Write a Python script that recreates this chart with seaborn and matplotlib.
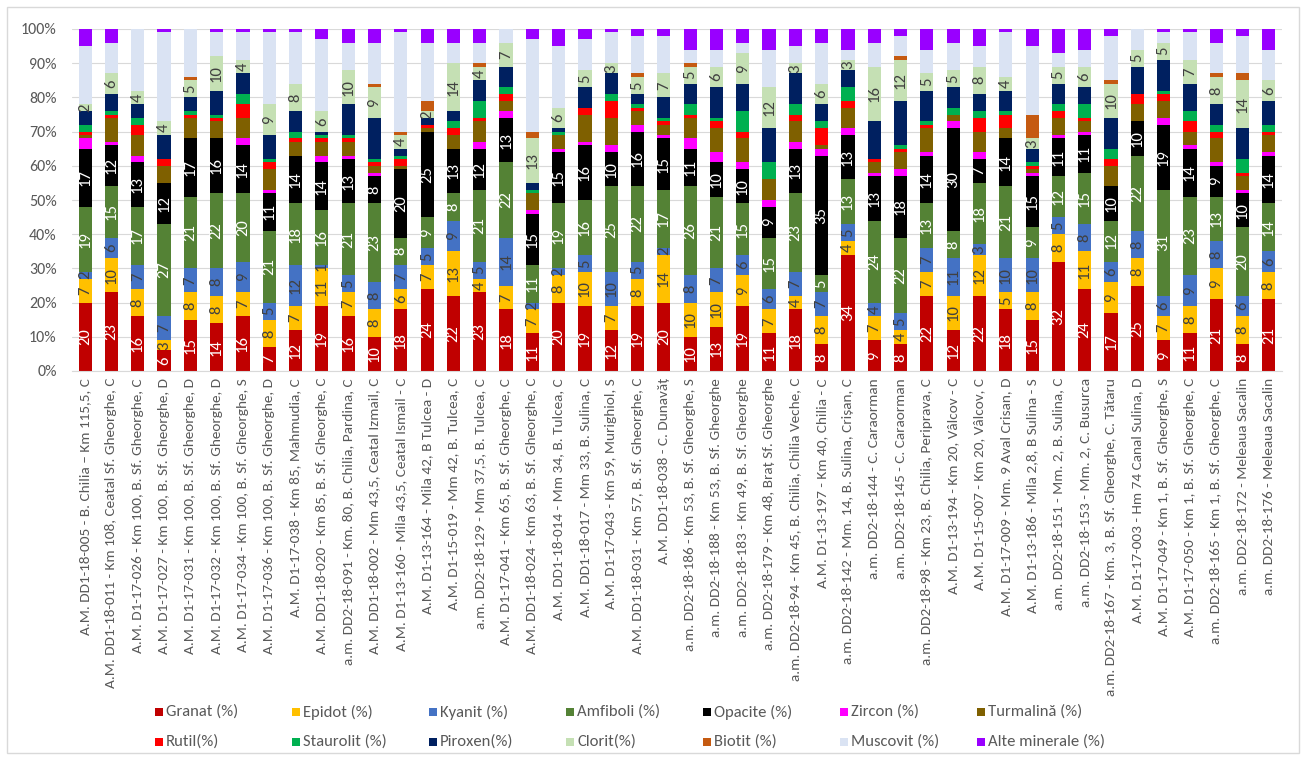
import numpy as np
import pandas as pd
import matplotlib
matplotlib.use("Agg")
import matplotlib.pyplot as plt
from matplotlib import font_manager
from matplotlib.patches import Rectangle
import seaborn as sns

# Sample identifiers (sampling point, river km / mile, branch, position)
samples = [
    "A.M. DD1-18-005 - B. Chilia – Km 115,5, C",
    "A.M. DD1-18-011 - Km 108, Ceatal Sf. Gheorghe, C",
    "A.M. D1-17-026 - Km 100, B. Sf. Gheorghe, C",
    "A.M. D1-17-027 - Km 100, B. Sf. Gheorghe, D",
    "A.M. D1-17-031 - Km 100, B. Sf. Gheorghe, D",
    "A.M. D1-17-032 - Km 100, B. Sf. Gheorghe, D",
    "A.M. D1-17-034 - Km 100, B. Sf. Gheorghe, S",
    "A.M. D1-17-036 - Km 100, B. Sf. Gheorghe, D",
    "A.M. D1-17-038 - Km 85, Mahmudia, C",
    "A.M. DD1-18-020 - Km 85, B. Sf. Gheorghe, C",
    "a.m. DD2-18-091 - Km. 80, B. Chilia, Pardina, C",
    "A.M. DD1-18-002 - Mm 43,5, Ceatal Izmail, C",
    "A.M. D1-13-160 - Mila 43,5, Ceatal Ismail - C",
    "A.M. D1-13-164 - Mila 42, B Tulcea - D",
    "A.M. D1-15-019 - Mm 42, B. Tulcea, C",
    "a.m. DD2-18-129 - Mm 37,5, B. Tulcea, C",
    "A.M. D1-17-041 - Km 65, B. Sf. Gheorghe, C",
    "A.M. DD1-18-024 - Km 63, B. Sf. Gheorghe, C",
    "A.M. DD1-18-014 - Mm 34, B. Tulcea, C",
    "A.M. DD1-18-017 - Mm 33, B. Sulina, C",
    "A.M. D1-17-043 - Km 59, Murighiol, S",
    "A.M. DD1-18-031 - Km 57, B. Sf. Gheorghe, C",
    "A.M. DD1-18-038 - C. Dunavăț",
    "a.m. DD2-18-186 - Km 53, B. Sf. Gheorghe, S",
    "a.m. DD2-18-188 - Km 53, B. Sf. Gheorghe",
    "a.m. DD2-18-183 - Km 49, B. Sf. Gheorghe",
    "a.m. DD2-18-179 - Km 48, Braț Sf. Gheorghe",
    "a.m. DD2-18-94 - Km 45, B. Chilia, Chilia Veche, C",
    "A.M. D1-13-197 - Km 40, Chilia - C",
    "a.m. DD2-18-142 - Mm. 14, B. Sulina, Crișan, C",
    "a.m. DD2-18-144 - C. Caraorman",
    "a.m. DD2-18-145 - C. Caraorman",
    "a.m. DD2-18-98 - Km 23, B. Chilia, Periprava, C",
    "A.M. D1-13-194 - Km 20, Vâlcov - C",
    "A.M. D1-15-007 - Km 20, Vâlcov, C",
    "A.M. D1-17-009 - Mm. 9 Aval Crisan, D",
    "A.M. D1-13-186 - Mila 2,8, B Sulina - S",
    "a.m. DD2-18-151 - Mm. 2, B. Sulina, C",
    "a.m. DD2-18-153 - Mm. 2, C. Busurca",
    "a.m. DD2-18-167 - Km. 3, B. Sf. Gheorghe, C. Tătaru",
    "A.M. D1-17-003 - Hm 74 Canal Sulina, D",
    "A.M. D1-17-049 - Km 1, B. Sf. Gheorghe, S",
    "A.M. D1-17-050 - Km 1, B. Sf. Gheorghe, C",
    "a.m. DD2-18-165 - Km 1, B. Sf. Gheorghe, C",
    "a.m. DD2-18-172 - Meleaua Sacalin",
    "a.m. DD2-18-176 - Meleaua Sacalin",
]

# Heavy-mineral composition per sample (%)
granat = [20, 23, 16, 6, 15, 14, 16, 7, 12, 19, 16, 10, 18, 24, 22, 23, 18, 11, 20, 19, 12, 19, 20,
          10, 13, 19, 11, 18, 8, 34, 9, 8, 22, 12, 22, 18, 15, 32, 24, 17, 25, 9, 11, 21, 8, 21]
epidot = [7, 10, 8, 3, 8, 8, 7, 8, 7, 11, 7, 8, 6, 7, 13, 4, 7, 7, 8, 10, 7, 8, 14,
          10, 10, 9, 7, 4, 8, 4, 7, 4, 7, 10, 12, 5, 8, 8, 11, 9, 8, 7, 8, 9, 8, 8]
kyanit = [2, 6, 7, 7, 7, 8, 9, 5, 12, 1, 5, 8, 7, 5, 9, 5, 14, 2, 2, 5, 10, 5, 2,
          8, 7, 6, 6, 7, 7, 5, 4, 5, 7, 11, 3, 10, 10, 5, 8, 6, 8, 6, 9, 8, 6, 6]
amfiboli = [19, 15, 17, 27, 21, 22, 20, 21, 18, 16, 21, 23, 8, 9, 8, 21, 22, 11, 19, 16, 25, 22, 17,
            26, 21, 15, 15, 23, 5, 13, 24, 22, 13, 8, 18, 21, 9, 12, 15, 12, 22, 31, 23, 13, 20, 14]
opacite = [17, 12, 13, 12, 17, 16, 14, 11, 14, 14, 13, 8, 20, 25, 13, 12, 13, 15, 15, 16, 10, 16, 15,
           11, 10, 10, 9, 13, 35, 13, 13, 18, 14, 30, 7, 14, 15, 11, 11, 10, 10, 19, 14, 9, 10, 14]
zircon = [3, 1, 2, 0, 0, 0, 2, 1, 0, 2, 1, 1, 0, 0, 0, 2, 2, 1, 1, 1, 2, 2, 1,
          3, 3, 2, 2, 2, 2, 2, 1, 2, 1, 2, 2, 0, 1, 1, 1, 0, 0, 2, 1, 1, 1, 1]
turmalina = [1, 7, 6, 5, 6, 5, 6, 6, 4, 4, 4, 2, 1, 1, 4, 6, 3, 5, 4, 8, 8, 4, 3,
             6, 7, 7, 6, 6, 1, 6, 3, 5, 7, 2, 6, 3, 1, 5, 3, 6, 5, 5, 4, 7, 4, 5]
rutil = [1, 1, 3, 2, 1, 1, 4, 2, 1, 1, 1, 1, 2, 1, 2, 1, 2, 0, 0, 2, 5, 1, 1,
         1, 2, 2, 0, 2, 5, 2, 1, 1, 1, 0, 4, 4, 1, 2, 1, 2, 3, 2, 3, 2, 1, 1]
staurolit = [2, 1, 2, 0, 1, 1, 3, 1, 2, 1, 1, 1, 1, 0, 2, 5, 2, 1, 1, 0, 2, 1, 1,
             3, 1, 6, 5, 3, 2, 4, 0, 1, 1, 2, 2, 1, 1, 2, 4, 3, 0, 1, 3, 2, 4, 2]
piroxen = [4, 5, 4, 7, 4, 7, 6, 7, 6, 1, 9, 12, 2, 2, 3, 6, 6, 2, 1, 6, 6, 3, 6,
           6, 9, 8, 10, 9, 5, 5, 11, 13, 9, 6, 5, 6, 4, 6, 5, 9, 8, 9, 8, 6, 9, 7]
clorit = [2, 6, 4, 4, 5, 10, 4, 9, 8, 6, 10, 9, 4, 2, 14, 4, 7, 13, 6, 5, 3, 5, 7,
          5, 6, 9, 12, 3, 6, 3, 16, 12, 5, 5, 8, 4, 3, 5, 6, 10, 5, 5, 7, 8, 14, 6]
biotit = [0, 0, 0, 0, 1, 0, 0, 0, 0, 0, 0, 1, 1, 3, 0, 1, 0, 2, 0, 0, 0, 1, 0,
          1, 0, 0, 0, 0, 0, 0, 0, 1, 0, 0, 0, 0, 7, 0, 0, 1, 0, 0, 0, 1, 2, 0]
muscovit = [17, 9, 18, 26, 14, 7, 8, 21, 15, 21, 8, 12, 29, 17, 6, 6, 4, 27, 18, 9, 9, 11, 11,
            4, 5, 3, 11, 5, 12, 3, 7, 6, 7, 8, 6, 13, 20, 4, 5, 13, 6, 3, 8, 9, 11, 9]
alte = [5, 4, 0, 1, 0, 1, 1, 1, 1, 3, 4, 4, 1, 4, 4, 4, 0, 3, 5, 3, 1, 2, 2,
        6, 6, 4, 6, 5, 4, 6, 4, 2, 6, 4, 5, 1, 5, 7, 6, 2, 0, 1, 1, 4, 2, 6]

series_names = ["Granat (%)", "Epidot (%)", "Kyanit (%)", "Amfiboli (%)", "Opacite (%)",
                "Zircon (%)", "Turmalină (%)", "Rutil(%)", "Staurolit (%)", "Piroxen(%)",
                "Clorit(%)", "Biotit (%)", "Muscovit (%)", "Alte minerale (%)"]
series_values = [granat, epidot, kyanit, amfiboli, opacite, zircon, turmalina, rutil,
                 staurolit, piroxen, clorit, biotit, muscovit, alte]
series_colors = ["#C00000", "#FFC000", "#4472C4", "#548235", "#000000", "#FF00FF", "#7F6000",
                 "#FF0000", "#00B050", "#002060", "#C5E0B4", "#C55A11", "#DAE3F3", "#9900FF"]
# series that carry value labels, with their label colour
label_colors = {"Granat (%)": "white", "Epidot (%)": "#404040", "Kyanit (%)": "#404040",
                "Amfiboli (%)": "white", "Opacite (%)": "white", "Clorit(%)": "#404040"}

sns.set_style("white")
installed = {f.name for f in font_manager.fontManager.ttflist}
main_font = next((f for f in ["Carlito", "Liberation Sans"] if f in installed), "DejaVu Sans")
plt.rcParams["font.family"] = [main_font, "DejaVu Sans"]

W, H = 1306, 760
fig = plt.figure(figsize=(W / 100, H / 100), dpi=100)
fig.patch.set_facecolor("white")
ax = fig.add_axes([72 / W, 1 - 371 / H, (1282 - 72) / W, (371 - 29) / H])

df = pd.DataFrame(dict(zip(series_names, series_values)), index=samples)
pct = df.div(df.sum(axis=1), axis=0) * 100

bottom = np.zeros(len(samples))
for name, color in zip(series_names, series_colors):
    part = pd.DataFrame({"sample": samples, "pct": pct[name].values})
    sns.barplot(data=part, x="sample", y="pct", color=color, saturation=1, width=0.5,
                bottom=bottom, linewidth=0, errorbar=None, ax=ax)
    if name in label_colors:
        texts = [str(v) if v > 0 else "" for v in df[name]]
        ax.bar_label(ax.containers[-1], labels=texts, label_type="center", rotation=90,
                     color=label_colors[name], fontsize=12)
    bottom = bottom + pct[name].values

ax.set_xlim(-0.5, len(samples) - 0.5)
ax.set_ylim(0, 100)
ax.set_yticks(np.arange(0, 101, 10))
ax.set_yticklabels([f"{v}%" for v in range(0, 101, 10)])
ax.set_xticks(range(len(samples)))
ax.set_xticklabels(samples, rotation=90)
ax.set_xlabel("")
ax.set_ylabel("")
ax.yaxis.grid(True, color="#D9D9D9", linewidth=0.8)
ax.xaxis.grid(False)
ax.set_axisbelow(True)
for side in ["left", "top", "right"]:
    ax.spines[side].set_visible(False)
ax.spines["bottom"].set_color("#D9D9D9")
ax.tick_params(axis="y", length=0, pad=11, labelsize=11.5, labelcolor="#595959")
ax.tick_params(axis="x", length=0, pad=5, labelsize=11, labelcolor="#595959")

# legend: two rows of seven equally spaced entries
for i, (name, color) in enumerate(zip(series_names, series_colors)):
    row, col = divmod(i, 7)
    x0 = 155 + col * 137
    yc = 712 + row * 30
    fig.patches.append(Rectangle((x0 / W, 1 - (yc + 4) / H), 8 / W, 8 / H,
                                 transform=fig.transFigure, facecolor=color, edgecolor="none"))
    fig.text((x0 + 11) / W, 1 - yc / H, name, va="center", ha="left",
             fontsize=12, color="#595959")

# chart-area border
fig.patches.append(Rectangle((7 / W, 7 / H), (W - 14) / W, (H - 14) / H,
                             transform=fig.transFigure, facecolor="none",
                             edgecolor="#D9D9D9", linewidth=1))

fig.savefig("out.png", dpi=100)
